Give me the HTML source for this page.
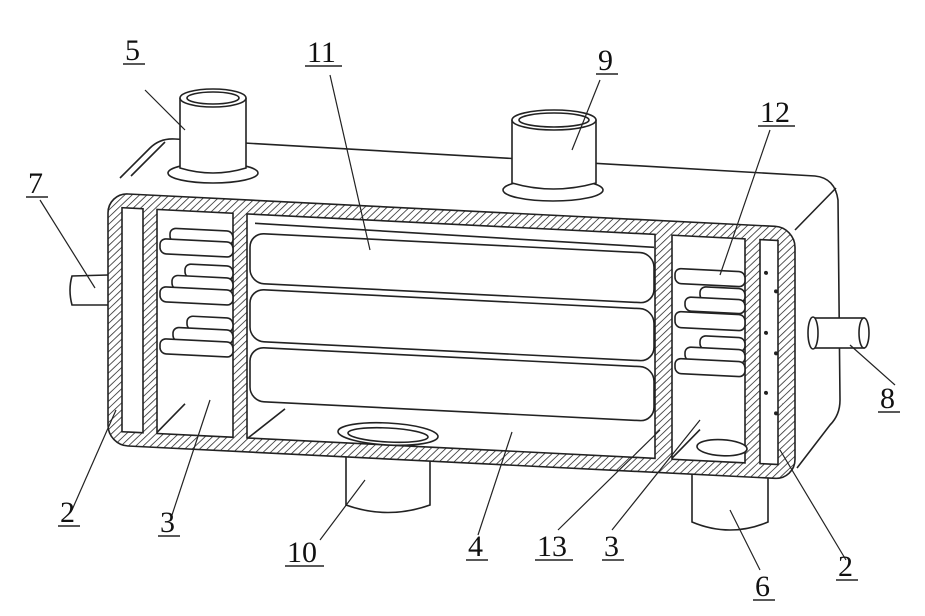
<!DOCTYPE html>
<html><head><meta charset="utf-8"><style>
html,body{margin:0;padding:0;background:#fff;}
svg{display:block;}
text{font-family:"Liberation Serif",serif;font-size:30px;fill:#111;}
</style></head><body>
<svg width="925" height="616" viewBox="0 0 925 616" xmlns="http://www.w3.org/2000/svg">
<defs>
<pattern id="h" width="5" height="5" patternUnits="userSpaceOnUse" patternTransform="rotate(45)">
<rect width="5" height="5" fill="#fff"/><line x1="0" y1="0" x2="0" y2="5" stroke="#333" stroke-width="1.6"/>
</pattern>
</defs>
<g fill="none" stroke="#222" stroke-width="1.6">
<path d="M120,178 L150,148 Q160,138 175,139 L815,176 Q835,178 838,200 L840,400 Q840,415 830,425 L797,468" fill="#fff"/>
<line x1="795" y1="230" x2="836" y2="188"/>
<line x1="131" y1="176" x2="165" y2="142"/>
<rect x="812" y="318" width="52" height="30" fill="#fff"/>
<ellipse cx="813" cy="333" rx="5" ry="16" fill="#fff"/>
<ellipse cx="864" cy="333" rx="5" ry="15" fill="#fff"/>
<path d="M108,275 L72,276 Q68,290 72,305 L108,305" fill="#fff"/>
<ellipse cx="213" cy="173" rx="45" ry="10" fill="#fff"/>
<path d="M180,98 L180,168 Q213,178 246,168 L246,98" fill="#fff"/>
<ellipse cx="213" cy="98" rx="33" ry="9" fill="#fff"/>
<ellipse cx="213" cy="98" rx="26" ry="6"/>
<ellipse cx="553" cy="190" rx="50" ry="11" fill="#fff"/>
<path d="M512,120 L512,183 Q553,195 596,183 L596,120" fill="#fff"/>
<ellipse cx="554" cy="120" rx="42" ry="10" fill="#fff"/>
<ellipse cx="554" cy="120" rx="35" ry="7"/>
<path d="M692,470 L692,522 Q730,538 768,522 L768,470" fill="#fff"/>
<path d="M346,445 L346,505 Q388,520 430,505 L430,445" fill="#fff"/>
</g>
<g transform="matrix(1 0.05 0 1 0 -5.4)" stroke="#222" stroke-width="1.6">
<rect x="108" y="193" width="687" height="252" rx="20" fill="url(#h)"/>
<rect x="122" y="207" width="21" height="224" fill="#fff"/>
<rect x="157" y="207" width="76" height="224" fill="#fff"/>
<rect x="247" y="207" width="408" height="224" fill="#fff"/>
<rect x="672" y="207" width="73" height="224" fill="#fff"/>
<rect x="760" y="207" width="18" height="224" fill="#fff"/>
<g fill="#fff">
<rect x="250" y="226" width="404" height="50" rx="14"/>
<rect x="250" y="282" width="404" height="52" rx="14"/>
<rect x="250" y="340" width="404" height="54" rx="14"/>
<line x1="255" y1="216" x2="654" y2="220"/>
<line x1="248" y1="431" x2="285" y2="400"/>
<rect x="170" y="225" width="63" height="14" rx="6"/>
<rect x="160" y="236" width="73" height="15" rx="6"/>
<rect x="185" y="260" width="48" height="14" rx="6"/>
<rect x="172" y="272" width="61" height="14" rx="6"/>
<rect x="160" y="284" width="73" height="15" rx="6"/>
<rect x="187" y="312" width="46" height="14" rx="6"/>
<rect x="173" y="324" width="60" height="14" rx="6"/>
<rect x="160" y="336" width="73" height="15" rx="6"/>
<line x1="157" y1="430" x2="185" y2="400"/>
<rect x="675" y="240" width="70" height="15" rx="6"/>
<rect x="700" y="257" width="45" height="14" rx="6"/>
<rect x="685" y="268" width="60" height="14" rx="6"/>
<rect x="675" y="283" width="70" height="16" rx="6"/>
<rect x="700" y="306" width="45" height="14" rx="6"/>
<rect x="685" y="318" width="60" height="14" rx="6"/>
<rect x="675" y="330" width="70" height="15" rx="6"/>
<ellipse cx="722" cy="417" rx="25" ry="8"/>
<line x1="672" y1="430" x2="700" y2="400"/>
<ellipse cx="388" cy="420" rx="50" ry="11"/>
<ellipse cx="388" cy="421" rx="40" ry="7"/>
</g>
<g fill="#222" stroke="none">
<circle cx="766" cy="240" r="2"/><circle cx="766" cy="300" r="2"/><circle cx="766" cy="360" r="2"/>
<circle cx="776" cy="258" r="2"/><circle cx="776" cy="320" r="2"/><circle cx="776" cy="380" r="2"/>
</g>
</g>
<g stroke="#222" stroke-width="1.2" fill="none">
<line x1="145" y1="90" x2="185" y2="130"/>
<line x1="330" y1="75" x2="370" y2="250"/>
<line x1="600" y1="80" x2="572" y2="150"/>
<line x1="770" y1="130" x2="720" y2="275"/>
<line x1="40" y1="200" x2="95" y2="288"/>
<line x1="895" y1="385" x2="850" y2="345"/>
<line x1="72" y1="510" x2="116" y2="410"/>
<line x1="172" y1="515" x2="210" y2="400"/>
<line x1="320" y1="540" x2="365" y2="480"/>
<line x1="478" y1="535" x2="512" y2="432"/>
<line x1="558" y1="530" x2="660" y2="430"/>
<line x1="612" y1="530" x2="700" y2="420"/>
<line x1="760" y1="570" x2="730" y2="510"/>
<line x1="846" y1="560" x2="780" y2="450"/>
</g>
<g>
<text x="125" y="60">5</text><line x1="123" y1="64" x2="145" y2="64" stroke="#222" stroke-width="1.5"/>
<text x="307" y="62">11</text><line x1="305" y1="66" x2="342" y2="66" stroke="#222" stroke-width="1.5"/>
<text x="598" y="70">9</text><line x1="596" y1="74" x2="618" y2="74" stroke="#222" stroke-width="1.5"/>
<text x="760" y="122">12</text><line x1="758" y1="126" x2="795" y2="126" stroke="#222" stroke-width="1.5"/>
<text x="28" y="193">7</text><line x1="26" y1="197" x2="48" y2="197" stroke="#222" stroke-width="1.5"/>
<text x="880" y="408">8</text><line x1="878" y1="412" x2="900" y2="412" stroke="#222" stroke-width="1.5"/>
<text x="60" y="522">2</text><line x1="58" y1="526" x2="80" y2="526" stroke="#222" stroke-width="1.5"/>
<text x="160" y="532">3</text><line x1="158" y1="536" x2="180" y2="536" stroke="#222" stroke-width="1.5"/>
<text x="287" y="562">10</text><line x1="285" y1="566" x2="324" y2="566" stroke="#222" stroke-width="1.5"/>
<text x="468" y="556">4</text><line x1="466" y1="560" x2="488" y2="560" stroke="#222" stroke-width="1.5"/>
<text x="537" y="556">13</text><line x1="535" y1="560" x2="573" y2="560" stroke="#222" stroke-width="1.5"/>
<text x="604" y="556">3</text><line x1="602" y1="560" x2="624" y2="560" stroke="#222" stroke-width="1.5"/>
<text x="755" y="596">6</text><line x1="753" y1="600" x2="775" y2="600" stroke="#222" stroke-width="1.5"/>
<text x="838" y="576">2</text><line x1="836" y1="580" x2="858" y2="580" stroke="#222" stroke-width="1.5"/>
</g>
</svg>
</body></html>
